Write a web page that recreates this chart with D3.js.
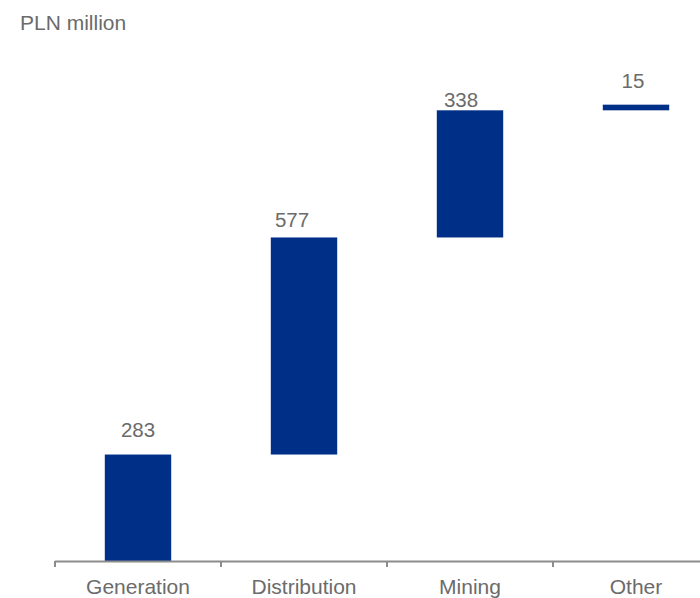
<!DOCTYPE html>
<html>
<head>
<meta charset="utf-8">
<script src="https://cdn.jsdelivr.net/npm/d3@7"></script>
<style>
  body { margin: 0; background: #fff; }
  svg { display: block; font-family: "Liberation Sans", Arial, sans-serif; }
</style>
</head>
<body>
<div id="chart"></div>
<script>
/**
 * DATA
 * */
const categories = ["Generation", "Distribution", "Mining", "Other"];
const values = [283, 577, 338, 15];
const unitLabel = "PLN million";

/**
 * CONSTANTS
 * */
const width = 700,
  height = 598,
  baseY = 561,
  axisLeft = 55;

const barColor = "#002f87",
  textColor = "#6b6b6b",
  axisColor = "#8c8c8c";

// small nudges so the value labels sit where the original puts them
const labelDx = [0, -12, -9, -3],
  labelGap = [18, 10, 3, 17];

// running totals for the waterfall
let running = 0;
const steps = values.map((v, i) => {
  const start = running;
  running += v;
  return { cat: categories[i], value: v, start: start, end: running };
});

const x = d3.scaleBand()
  .domain(categories)
  .range([axisLeft, axisLeft + 664])
  .paddingInner(0.6)
  .paddingOuter(0.3);

const y = d3.scaleLinear()
  .domain([0, 1300])
  .range([baseY, baseY - 1300 * 0.3762]);

const svg = d3.select("#chart")
  .append("svg")
  .attr("width", width)
  .attr("height", height);

// unit label
svg.append("text")
  .attr("x", 20)
  .attr("y", 30)
  .attr("font-size", 21)
  .attr("fill", textColor)
  .text(unitLabel);

// bars
svg.selectAll("rect.bar")
  .data(steps)
  .join("rect")
  .attr("class", "bar")
  .attr("x", d => x(d.cat))
  .attr("width", x.bandwidth())
  .attr("y", d => y(d.end))
  .attr("height", d => y(d.start) - y(d.end))
  .attr("fill", barColor);

// value labels
svg.selectAll("text.value")
  .data(steps)
  .join("text")
  .attr("class", "value")
  .attr("x", (d, i) => x(d.cat) + x.bandwidth() / 2 + labelDx[i])
  .attr("y", (d, i) => y(d.end) - labelGap[i])
  .attr("text-anchor", "middle")
  .attr("font-size", 20.5)
  .attr("fill", textColor)
  .text(d => d.value);

// x axis: baseline, boundary ticks, category names
const axis = svg.append("g");
axis.append("line")
  .attr("x1", axisLeft)
  .attr("x2", width)
  .attr("y1", baseY + 0.5)
  .attr("y2", baseY + 0.5)
  .attr("stroke", axisColor)
  .attr("stroke-width", 2);

axis.selectAll("line.tick")
  .data(d3.range(categories.length + 1))
  .join("line")
  .attr("class", "tick")
  .attr("x1", i => axisLeft + i * x.step())
  .attr("x2", i => axisLeft + i * x.step())
  .attr("y1", baseY)
  .attr("y2", baseY + 6)
  .attr("stroke", axisColor)
  .attr("stroke-width", 2);

axis.selectAll("text.cat")
  .data(categories)
  .join("text")
  .attr("class", "cat")
  .attr("x", d => x(d) + x.bandwidth() / 2)
  .attr("y", 594)
  .attr("text-anchor", "middle")
  .attr("font-size", 21)
  .attr("fill", textColor)
  .text(d => d);
</script>
</body>
</html>
